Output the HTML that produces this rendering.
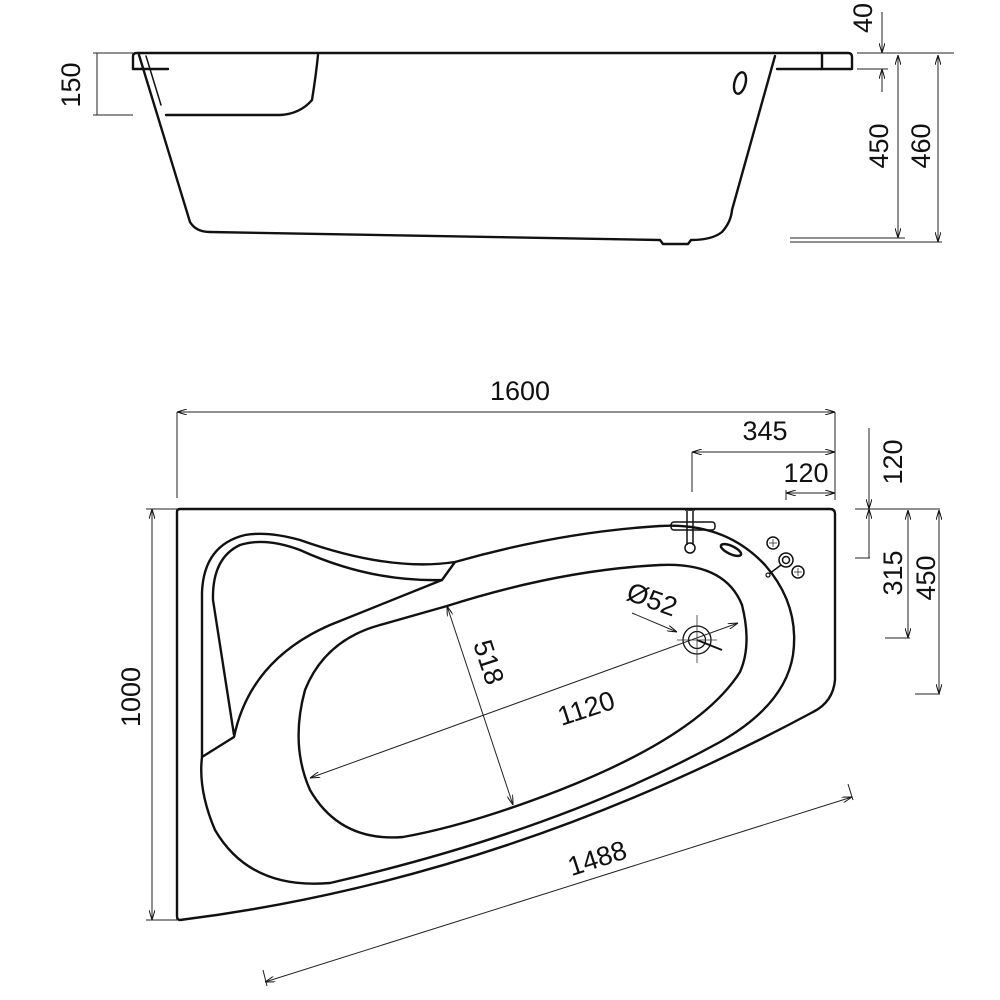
<!DOCTYPE html>
<html><head><meta charset="utf-8"><style>
html,body{margin:0;padding:0;background:#fff;}
svg{display:block;}
text{font-family:"Liberation Sans",sans-serif;font-size:27px;fill:#111;}
</style></head><body>
<svg width="1000" height="1000" viewBox="0 0 1000 1000" xmlns="http://www.w3.org/2000/svg">
<defs>
<marker id="a" viewBox="0 0 10 6" refX="10" refY="3" markerWidth="10" markerHeight="6" orient="auto-start-reverse" markerUnits="userSpaceOnUse"><path d="M0,0 L10,3 L0,6" fill="none" stroke="#111" stroke-width="1"/></marker>
</defs>
<g fill="none" stroke="#111" stroke-width="2.4" stroke-linejoin="round" stroke-linecap="round">
<!-- SIDE VIEW -->
<path d="M133,69 L133,56 Q133,53 137,53 L848,53 Q852,53 852,57 L852,69 L777,69"/>
<line x1="822" y1="54" x2="822" y2="69"/>
<path d="M133,69 L168,69"/>
<path d="M139,55 L190,222 Q196,232 210,232 L660,240 L663,244 L688,244 L691,240 Q712,240 722,232 Q731,222 732,210 L775,56"/>
<path d="M146,56 L161,105" stroke-width="1.5"/>
<path d="M318,55 Q316,75 312,100 Q300,114 280,115 L166,115" />
<ellipse cx="740" cy="83" rx="5.5" ry="11" transform="rotate(15 740 83)"/>
</g>
<g fill="none" stroke="#222" stroke-width="1">
<line x1="93" y1="53" x2="133" y2="53"/><line x1="93" y1="115" x2="133" y2="115"/>
<line x1="97" y1="53" x2="97" y2="115"/>
<line x1="857" y1="53" x2="954" y2="53"/><line x1="857" y1="69" x2="888" y2="69"/>
<line x1="882" y1="12" x2="882" y2="53" marker-end="url(#a)"/>
<line x1="882" y1="92" x2="882" y2="69" marker-end="url(#a)"/>
<line x1="898" y1="55" x2="898" y2="238" marker-start="url(#a)" marker-end="url(#a)"/>
<line x1="938" y1="55" x2="938" y2="242" marker-start="url(#a)" marker-end="url(#a)"/>
<line x1="790" y1="238" x2="905" y2="238"/><line x1="790" y1="242" x2="942" y2="242"/>
</g>
<text transform="translate(80,85) rotate(-90)" text-anchor="middle">150</text>
<text transform="translate(872,18) rotate(-90)" text-anchor="middle">40</text>
<text transform="translate(888,146) rotate(-90)" text-anchor="middle">450</text>
<text transform="translate(930,146) rotate(-90)" text-anchor="middle">460</text>

<!-- PLAN VIEW -->
<g fill="none" stroke="#111" stroke-width="2.4" stroke-linejoin="round">
<path d="M180,509 L830,509 Q835,509 835,514 L835,680 Q833,702 813,712 Q500,880 180,920 Q177,920 177,916 L177,512 Q177,509 180,509 Z"/>
<path d="M202,757 L202,592 Q204,545 245,535 Q268,531 300,540 Q390,572 455,562"/>
<path d="M234,735 L213,600 Q212,558 240,545 Q265,537 300,550 Q370,582 442,580 L455,562"/>
<path d="M455,562 Q560,532 660,526 Q725,522 765,565 Q800,605 793,655 Q785,705 720,742 Q560,830 330,883 Q250,890 215,830 Q198,790 202,757 L234,737 Q250,660 330,625 L442,580"/>
<path d="M447,606 Q560,570 660,565 Q725,562 742,605 Q752,645 740,672 Q700,735 560,790 Q470,825 403,837 Q340,842 310,790 Q290,745 305,690 Q325,640 380,625 Z"/>
<circle cx="697" cy="640" r="14" stroke-width="1.3"/><circle cx="697" cy="640" r="8.5" stroke-width="1.3"/>
<line x1="697" y1="640" x2="722" y2="650" stroke-width="2"/>
<path d="M685,510 L695,510 M687,511 L687,545 M693,511 L693,545" stroke-width="1.5"/>
<circle cx="690" cy="548" r="5" stroke-width="1.5"/>
<rect x="671" y="522" width="44" height="8" rx="3" stroke-width="1.5"/>
<ellipse cx="731" cy="550" rx="11" ry="4" transform="rotate(25 731 550)" stroke-width="2.5"/>
<circle cx="786" cy="560" r="7" stroke-width="1.5"/><circle cx="786" cy="560" r="3.5" stroke-width="1.5"/>
<line x1="781" y1="565" x2="769" y2="574" stroke-width="1.5"/><circle cx="768" cy="575" r="2" stroke-width="1.2"/>
<circle cx="773" cy="543" r="6" stroke-width="1.5"/><circle cx="798" cy="572" r="6" stroke-width="1.5"/>
</g>
<g stroke="#333" stroke-width="0.8">
<line x1="769" y1="543" x2="777" y2="543"/><line x1="773" y1="539" x2="773" y2="547"/>
<line x1="794" y1="572" x2="802" y2="572"/><line x1="798" y1="568" x2="798" y2="576"/>
<line x1="677" y1="640" x2="717" y2="640"/><line x1="697" y1="615" x2="697" y2="663"/>
</g>
<g fill="none" stroke="#222" stroke-width="1">
<line x1="177" y1="412" x2="177" y2="498"/><line x1="835" y1="412" x2="835" y2="500"/>
<line x1="177" y1="412" x2="835" y2="412" marker-start="url(#a)" marker-end="url(#a)"/>
<line x1="692" y1="452" x2="692" y2="492"/>
<line x1="692" y1="452" x2="835" y2="452" marker-start="url(#a)" marker-end="url(#a)"/>
<line x1="786" y1="490" x2="786" y2="500"/>
<line x1="786" y1="493" x2="835" y2="493" marker-start="url(#a)" marker-end="url(#a)"/>
<line x1="855" y1="509" x2="940" y2="509"/>
<line x1="869" y1="428" x2="869" y2="509" marker-end="url(#a)"/>
<line x1="869" y1="558" x2="869" y2="509" marker-end="url(#a)"/>
<line x1="855" y1="558" x2="870" y2="558"/>
<line x1="908" y1="510" x2="908" y2="638" marker-start="url(#a)" marker-end="url(#a)"/>
<line x1="885" y1="638" x2="910" y2="638"/>
<line x1="939" y1="510" x2="939" y2="694" marker-start="url(#a)" marker-end="url(#a)"/>
<line x1="915" y1="694" x2="940" y2="694"/>
<line x1="146" y1="509" x2="177" y2="509"/><line x1="146" y1="920" x2="177" y2="920"/>
<line x1="152" y1="509" x2="152" y2="920" marker-start="url(#a)" marker-end="url(#a)"/>
<line x1="265" y1="982" x2="852" y2="797" marker-start="url(#a)" marker-end="url(#a)"/>
<line x1="848" y1="784" x2="853" y2="800"/><line x1="263" y1="970" x2="267" y2="986"/>
<line x1="310" y1="778" x2="738" y2="623" marker-start="url(#a)" marker-end="url(#a)"/>
<line x1="447" y1="606" x2="513" y2="805" marker-start="url(#a)" marker-end="url(#a)"/>
<line x1="632" y1="613" x2="677" y2="632" marker-end="url(#a)"/>
</g>
<text x="520" y="400" text-anchor="middle">1600</text>
<text x="765" y="440" text-anchor="middle">345</text>
<text x="806" y="482" text-anchor="middle">120</text>
<text transform="translate(902,462) rotate(-90)" text-anchor="middle">120</text>
<text transform="translate(902,573) rotate(-90)" text-anchor="middle">315</text>
<text transform="translate(935,578) rotate(-90)" text-anchor="middle">450</text>
<text transform="translate(140,697) rotate(-90)" text-anchor="middle">1000</text>
<text transform="translate(600,867) rotate(-18)" text-anchor="middle">1488</text>
<text transform="translate(589,717) rotate(-18)" text-anchor="middle">1120</text>
<text transform="translate(480,665) rotate(72)" text-anchor="middle">518</text>
<text transform="translate(649,608) rotate(20)" text-anchor="middle">Ø52</text>
</svg>
</body></html>
